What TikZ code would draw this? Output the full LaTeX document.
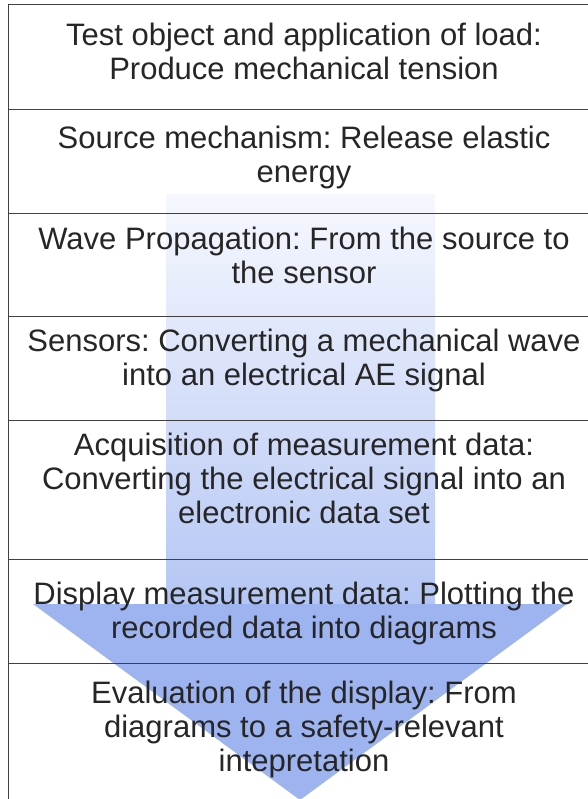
\documentclass[tikz,border=0pt]{standalone}
\usepackage{fontspec}
\setmainfont{Liberation Sans}
\definecolor{arrowtop}{RGB}{246,248,254}
\definecolor{arrowmid}{RGB}{180,198,244}
\definecolor{arrowhead}{RGB}{157,180,241}
\definecolor{rulec}{RGB}{64,64,64}
\definecolor{ink}{RGB}{38,38,38}
\begin{document}
\frenchspacing
\begin{tikzpicture}[x=1pt,y=-1pt,
  rowbox/.style={draw=rulec, line width=1.2pt, minimum width=620pt, inner sep=0pt, anchor=north west},
  rowtext/.style={text=ink, font=\fontsize{31}{34}\selectfont, align=center, inner sep=0pt, anchor=north}]
\useasboundingbox (0,0) rectangle (587,799);
% background arrow
\coordinate (sl) at (166,195);
\coordinate (sr) at (435,195);
\coordinate (hl) at (33,604);
\coordinate (hr) at (567,604);
\coordinate (tip) at (300,800);
\shade[top color=arrowtop, bottom color=arrowmid] (sl) rectangle (435,604.5);
\fill[arrowhead] (hl) -- (hr) -- (tip) -- cycle;
% rows
\node[rowbox, minimum height=105pt] (r1) at (8,4) {};
\node[rowbox, minimum height=104pt] (r2) at (8,109) {};
\node[rowbox, minimum height=103pt] (r3) at (8,213) {};
\node[rowbox, minimum height=104pt] (r4) at (8,316) {};
\node[rowbox, minimum height=139pt] (r5) at (8,420) {};
\node[rowbox, minimum height=104pt] (r6) at (8,559) {};
\node[rowbox, minimum height=160pt] (r7) at (8,663) {};
% texts
\node[rowtext] (t1) at (304,23) {Test object and application of load:\\Produce mechanical tension};
\node[rowtext] (t2) at (304,126) {Source mechanism: Release elastic\\energy};
\node[rowtext] (t3) at (304,227) {Wave Propagation: From the source to\\the sensor};
\node[rowtext] (t4) at (304,329) {Sensors: Converting a mechanical wave\\into an electrical AE signal};
\node[rowtext] (t5) at (304,433) {Acquisition of measurement data:\\Converting the electrical signal into an\\electronic data set};
\node[rowtext] (t6) at (304,582) {Display measurement data: Plotting the\\recorded data into diagrams};
\node[rowtext] (t7) at (304,681) {Evaluation of the display: From\\diagrams to a safety-relevant\\intepretation};
\end{tikzpicture}
\end{document}
